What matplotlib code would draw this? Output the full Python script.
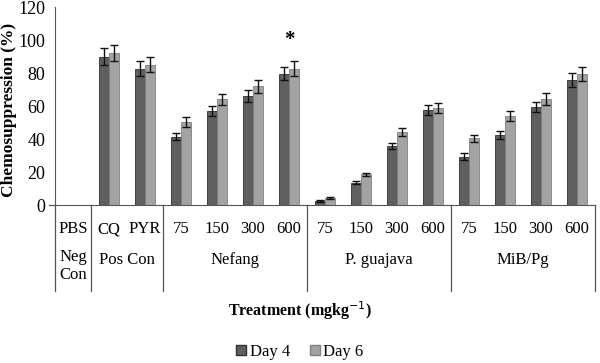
import numpy as np
import matplotlib.pyplot as plt
from matplotlib.lines import Line2D
from matplotlib.patches import Patch

plt.rcParams['font.family'] = ['Liberation Serif', 'DejaVu Serif']

doses = ["PBS", "CQ", "PYR", "75", "150", "300", "600", "75", "150", "300", "600",
         "75", "150", "300", "600"]
groups = ["Neg\nCon", "Pos Con", "Nefang", "P. guajava", "MiB/Pg"]
group_sizes = [1, 2, 4, 4, 4]

day4 = [0, 90, 82.5, 41.5, 57, 66, 79.5, 2.5, 13.5, 35.8, 57.6, 29.3, 42.4, 59.2, 75.8]
day6 = [0, 92, 85, 50.5, 64, 72, 82.5, 4.2, 18.6, 44.4, 58.6, 40.4, 53.9, 64.4, 79.4]
err4 = [0, 5, 4.5, 2, 3, 3.5, 4, 0.4, 1, 2, 3, 2, 2.5, 3, 4]
err6 = [0, 5, 4.5, 3, 3.5, 4, 4.5, 0.5, 1, 2.5, 3, 2, 3, 3.5, 4]

fig = plt.figure(figsize=(6, 3.63), dpi=100)
ax = fig.add_axes([55/600, 1 - 205/363, 540/600, 198/363])

x = np.arange(len(doses))
w = 0.29
xs = x[1:]  # PBS has no bars
ax.bar(xs - w/2, day4[1:], w, color='#5f5f5f', edgecolor='#303030', linewidth=0.6,
       yerr=err4[1:], error_kw=dict(ecolor='#111111', elinewidth=1, capsize=3, capthick=1))
ax.bar(xs + w/2, day6[1:], w, color='#a3a3a3', edgecolor='#808080', linewidth=0.6,
       yerr=err6[1:], error_kw=dict(ecolor='#111111', elinewidth=1, capsize=3, capthick=1))

ax.text(6, 100, "*", ha='center', va='center', fontsize=15, fontweight='bold')

ax.set_xlim(-0.5, 14.5)
ax.set_ylim(0, 120)
ax.set_yticks(range(0, 121, 20))
ax.tick_params(axis='y', length=0, pad=7, labelsize=13)
ax.set_xticks([])
for s in ['top', 'right']:
    ax.spines[s].set_visible(False)
ax.spines['left'].set_color('#555555')
ax.spines['bottom'].set_color('#555555')
# baseline sticks out a little left of the axis
ax.add_line(Line2D([-0.5 - 6/36, -0.5], [0, 0], color='#555555', linewidth=0.9, clip_on=False))

trans = ax.get_xaxis_transform()
# separator lines of the category table
pos = -0.5
bounds = [pos]
for n in group_sizes:
    pos += n
    bounds.append(pos)
y_bottom = -(291 - 205) / 198
for b in bounds:
    ax.add_line(Line2D([b, b], [0, y_bottom], transform=trans, color='#555555',
                       linewidth=0.9, clip_on=False))

row1 = -(229 - 205) / 198
row2 = -(260 - 205) / 198
for xi, d in zip(x, doses):
    ax.text(xi, row1, d, transform=trans, ha='center', va='center', fontsize=12)
start = -0.5
for g, n in zip(groups, group_sizes):
    center = start + n / 2
    if "\n" in g:
        ax.text(center, row2 + 0.055, g, transform=trans, ha='center', va='top', fontsize=12,
                linespacing=1.15)
    else:
        ax.text(center, row2, g, transform=trans, ha='center', va='center', fontsize=12)
    start += n

fig.text(0.5, 1 - 311/363, "Treatment (mgkg$^{-1}$)", ha='center', va='center',
         fontsize=11.5, fontweight='bold')
fig.text(9/600, 1 - 110/363, "Chemosuppression (%)", rotation=90, ha='center', va='center',
         fontsize=12.5, fontweight='bold')

handles = [Patch(facecolor='#5f5f5f', edgecolor='#303030'),
           Patch(facecolor='#a3a3a3', edgecolor='#808080')]
fig.legend(handles, ["Day 4", "Day 6"], loc='center', bbox_to_anchor=(0.5, 1 - 352/363),
           ncol=2, frameon=False, fontsize=12, handlelength=0.6, handleheight=0.6,
           handletextpad=0.2, columnspacing=1.2)

fig.savefig("out.png", dpi=100)
